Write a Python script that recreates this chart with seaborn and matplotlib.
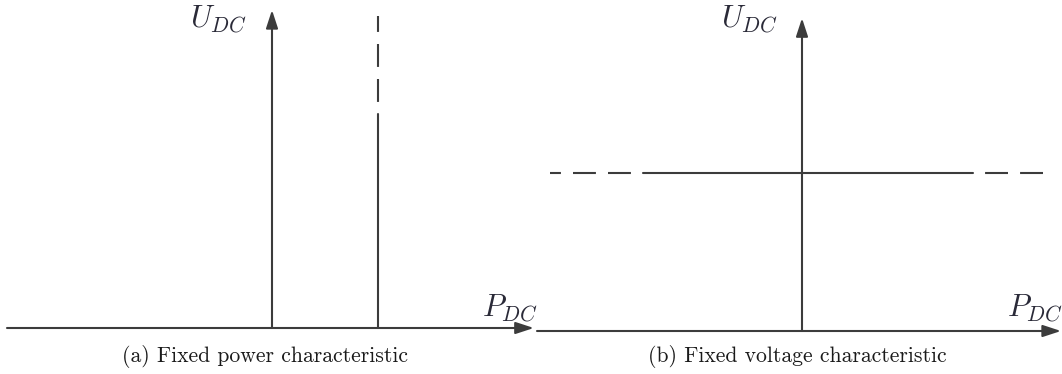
import matplotlib
matplotlib.use("Agg")
import matplotlib.pyplot as plt
import seaborn as sns
import pandas as pd

# Characteristic values (per-unit)
fixed_power = 1.0            # P_DC set-point of the fixed power converter
power_solid_u = [0.0, 2.14]  # operating range of the fixed power line (solid)
power_dash_u = [2.14, 3.12]  # extension of the fixed power line (dashed)

fixed_voltage = 1.0              # U_DC set-point of the fixed voltage converter
voltage_solid_p = [-1.59, 1.71]  # operating range of the fixed voltage line (solid)
voltage_dash_left_p = [-2.52, -1.59]
voltage_dash_right_p = [1.71, 2.43]

captions = ["(a) Fixed power characteristic", "(b) Fixed voltage characteristic"]
u_label = r"$U_{DC}$"
p_label = r"$P_{DC}$"

sns.set_style("white")
plt.rcParams["mathtext.fontset"] = "cm"

LINE = "#3c3c3c"
TEXT = "#2a2a38"
LW = 1.5
DASH = (11.0, 5.8)   # in units of line width

W, H = 1062, 374
fig = plt.figure(figsize=(W / 100, H / 100), dpi=100)
fig.patch.set_facecolor("white")

ax_a = fig.add_axes([0, 0, 531 / W, 1])
ax_b = fig.add_axes([531 / W, 0, 531 / W, 1])

# Panel (a): 106 px per unit of P, 100 px per unit of U
ax_a.set_xlim(-272 / 106, (531 - 272) / 106)
ax_a.set_ylim(-46 / 100, (374 - 46) / 100)
# Panel (b): 100 px per unit of P, 158 px per unit of U
ax_b.set_xlim(-271 / 100, (531 - 271) / 100)
ax_b.set_ylim(-43 / 158, (374 - 43) / 158)


def axis_arrow(ax, start, tip):
    ax.annotate("", xy=tip, xytext=start, annotation_clip=False,
                arrowprops=dict(arrowstyle="-|>,head_length=1.1,head_width=0.36",
                                lw=LW, color=LINE, shrinkA=0, shrinkB=0))


def dashed(ax):
    line = ax.lines[-1]
    line.set_linestyle((DASH[0], DASH))
    line.set_dash_capstyle("butt")


# ---- (a) fixed power characteristic ----
axis_arrow(ax_a, (-2.5, 0), (2.47, 0))
axis_arrow(ax_a, (0, 0), (0, 3.18))
df_solid = pd.DataFrame({"P": [fixed_power] * 2, "U": power_solid_u})
df_dash = pd.DataFrame({"P": [fixed_power] * 2, "U": power_dash_u})
sns.lineplot(data=df_solid, x="P", y="U", ax=ax_a, color=LINE, lw=LW,
             sort=False, estimator=None)
sns.lineplot(data=df_dash, x="P", y="U", ax=ax_a, color=LINE, lw=LW,
             sort=False, estimator=None)
dashed(ax_a)

# ---- (b) fixed voltage characteristic ----
axis_arrow(ax_b, (-2.65, 0), (2.59, 0))
axis_arrow(ax_b, (0, 0), (0, 1.98))
df_vs = pd.DataFrame({"P": voltage_solid_p, "U": [fixed_voltage] * 2})
sns.lineplot(data=df_vs, x="P", y="U", ax=ax_b, color=LINE, lw=LW,
             sort=False, estimator=None)
# dashes start at the solid segment and run outward
df_vl = pd.DataFrame({"P": voltage_dash_left_p[::-1], "U": [fixed_voltage] * 2})
df_vr = pd.DataFrame({"P": voltage_dash_right_p, "U": [fixed_voltage] * 2})
for d in (df_vl, df_vr):
    sns.lineplot(data=d, x="P", y="U", ax=ax_b, color=LINE, lw=LW,
                 sort=False, estimator=None)
    dashed(ax_b)

for ax in (ax_a, ax_b):
    ax.set_axis_off()

# ---- labels ----
def px(x, y):
    return x / W, 1 - y / H

fig.text(*px(247, 19), u_label, ha="right", va="center", fontsize=22, color=TEXT)
fig.text(*px(538, 308), p_label, ha="right", va="center", fontsize=22, color=TEXT)
fig.text(*px(778, 19), u_label, ha="right", va="center", fontsize=22, color=TEXT)
fig.text(*px(1063, 308), p_label, ha="right", va="center", fontsize=22, color=TEXT)

fig.text(*px(265, 357), captions[0], ha="center", va="center", fontsize=15.6,
         family="cmr10", color="#1a1a1a")
fig.text(*px(797, 357), captions[1], ha="center", va="center", fontsize=15.6,
         family="cmr10", color="#1a1a1a")

fig.savefig("out.png", dpi=100, facecolor="white")
